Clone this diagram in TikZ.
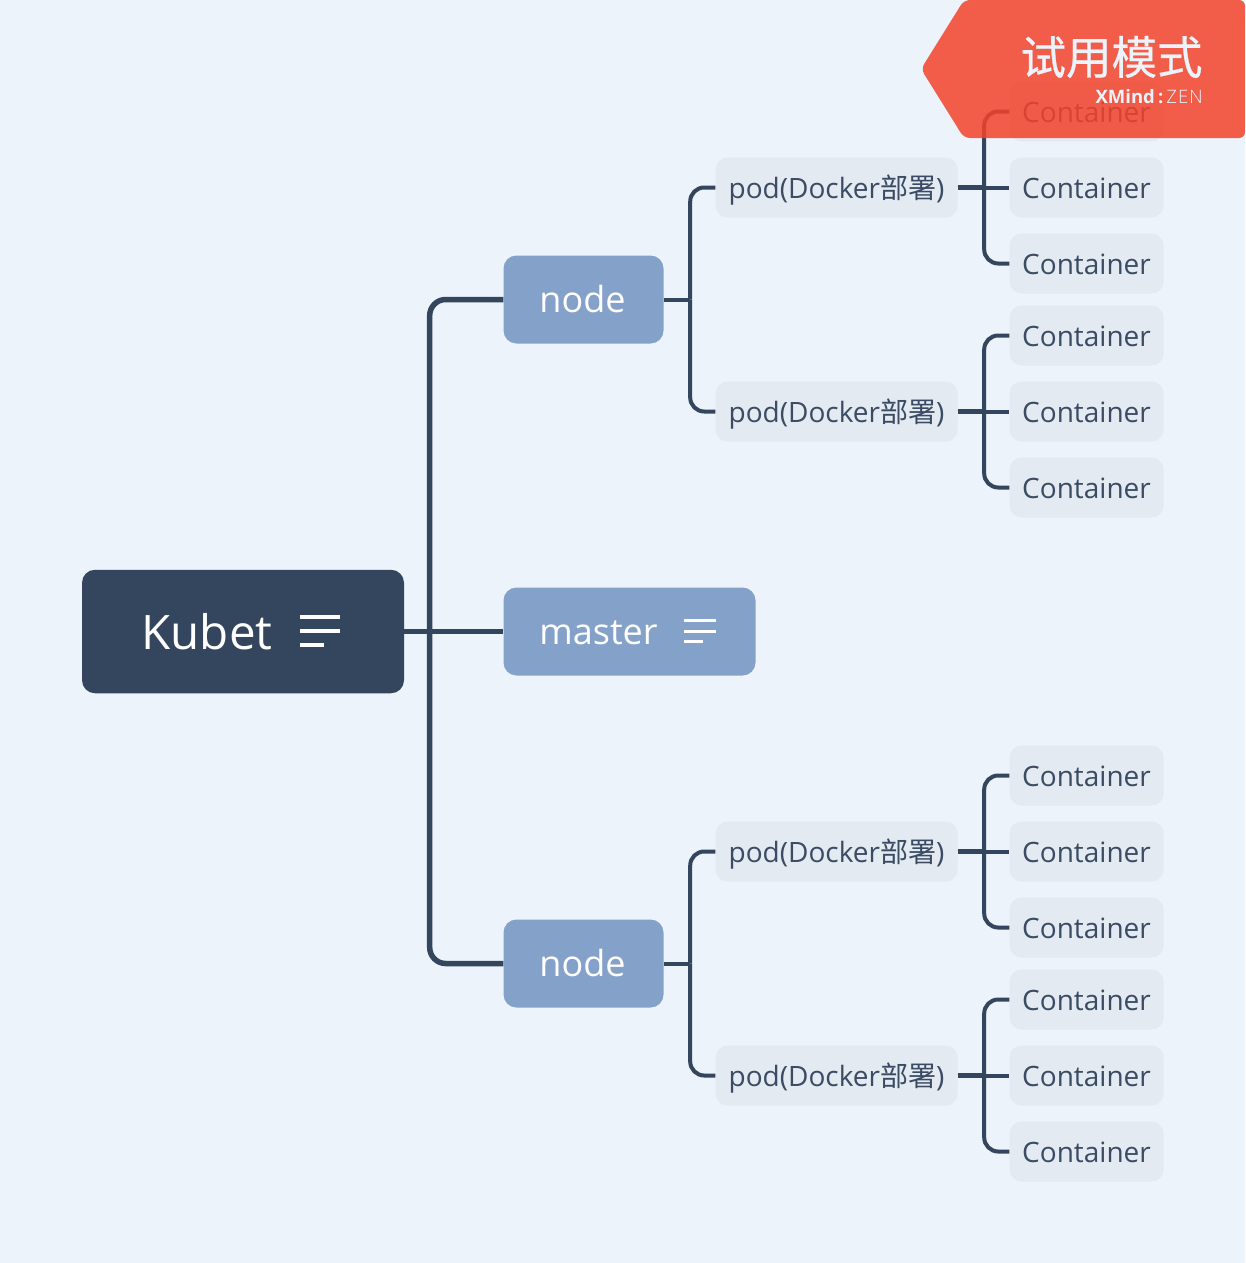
\documentclass[tikz,border=0pt]{standalone}
\usepackage{fontspec}
\setmainfont{Open Sans}
\newfontfamily\cjk{Noto Sans CJK SC}
\newfontfamily\cjkheavy[FakeBold=0.6]{Noto Sans CJK SC}
\newfontfamily\brandlight[LetterSpace=6]{Open Sans Light}
\definecolor{bgblue}{HTML}{ECF3FA}
\definecolor{rootblue}{HTML}{34465E}
\definecolor{nodeblue}{HTML}{84A1C9}
\definecolor{podgrey}{HTML}{E3EAF2}
\definecolor{podtext}{HTML}{3A4B63}
\definecolor{trialred}{HTML}{F3432B}

\tikzstyle{rootbox} = [fill=rootblue, text=white, rectangle, rounded corners=13pt,
    minimum width=322pt, minimum height=123.5pt, inner sep=0pt, font=\fontsize{47.5}{47.5}\selectfont]
\tikzstyle{nodebox} = [fill=nodeblue, text=white, rectangle, rounded corners=13pt,
    minimum height=88pt, inner sep=0pt, text height=32pt, text depth=7pt, font=\fontsize{36}{36}\selectfont]
\tikzstyle{leafbox} = [fill=podgrey, text=podtext, rectangle, rounded corners=12pt,
    minimum height=60pt, inner sep=0pt, text height=28pt, text depth=6pt, font=\fontsize{28}{28}\selectfont]
\tikzstyle{link} = [draw=rootblue, line width=4pt, rounded corners=14pt]
\tikzstyle{mainlink} = [draw=rootblue, line width=5.5pt, rounded corners=16pt]
\tikzstyle{podlink} = [draw=rootblue, line width=5pt]
\tikzstyle{noteline} = [draw=white, line width=3pt]

\begin{document}
\begin{tikzpicture}[x=1pt, y=-1pt]
    \useasboundingbox (0,0) rectangle (1245,1263);
    \fill[bgblue] (0,0) rectangle (1245,1263);
%------------ Root and first level ---------------------
    \node [rootbox] (root) at (243,631.5) {Kubet\kern72pt};
    \node [nodebox, minimum width=160pt] (nodeA) at (583.5,299.5) {\kern-2pt node};
    \node [nodebox, minimum width=252pt] (master) at (629.5,631.5) {master\kern62pt};
    \node [nodebox, minimum width=160pt] (nodeB) at (583.5,963.5) {\kern-2pt node};
%------------ Pods ---------------------
    \foreach \name/\ypos in {podA/187.5, podB/411.5, podC/851.5, podD/1075.5} {
        \node [leafbox, minimum width=242pt] (\name) at (836.5,\ypos) {pod(Docker{\cjk 部署})};
    }
%------------ Containers ---------------------
    \foreach \name/\ypos in {conA/111.5, conB/187.5, conC/263.5, conD/335.5, conE/411.5, conF/487.5,
        conG/775.5, conH/851.5, conI/927.5, conJ/999.5, conK/1075.5, conL/1151.5} {
        \node [leafbox, minimum width=154pt] (\name) at (1086.5,\ypos) {Container};
    }
%------------ Connectors ---------------------
    \draw [mainlink] (root.east) -- (master.west);
    \draw [mainlink] (root.east) ++(25.5,0) |- (nodeA.west);
    \draw [mainlink] (root.east) ++(25.5,0) |- (nodeB.west);
    \foreach \parent/\childa/\childb in {nodeA/podA/podB, nodeB/podC/podD} {
        \draw [link] (\parent.east) -- ++(26.5,0);
        \draw [link] (\parent.east) ++(26.5,0) |- (\childa.west);
        \draw [link] (\parent.east) ++(26.5,0) |- (\childb.west);
    }
    \foreach \parent/\childa/\childb/\childc in {podA/conA/conB/conC, podB/conD/conE/conF,
        podC/conG/conH/conI, podD/conJ/conK/conL} {
        \draw [podlink] (\parent.east) -- ++(26.5,0);
        \draw [link] (\parent.east) ++(26.5,0) |- (\childa.west);
        \draw [link] (\parent.east) -- (\childb.west);
        \draw [link] (\parent.east) ++(26.5,0) |- (\childc.west);
    }
%------------ Note icons ---------------------
    \draw [noteline, line width=3.5pt] (300,617) -- (340,617) (300,631) -- (340,631) (300,645) -- (324,645);
    \draw [noteline] (684,620) -- (716,620) (684,631) -- (716,631) (684,641) -- (703,641);
%------------ Trial badge ---------------------
    \fill [trialred, fill opacity=0.85, rounded corners=6pt] (964,0) -- (1245,0) -- (1245,138)
        -- (964,138) -- (921,69) -- cycle;
    \node [text=bgblue, inner sep=0pt, font=\cjkheavy\fontsize{45.5}{45.5}\selectfont] (trial) at (1111.5,57) {试用模式};
    \node [text=bgblue, inner sep=0pt, font=\fontsize{18.5}{18.5}\selectfont, anchor=east] (brand) at (1203,96.5)
        {\textbf{XMind}\,\textbf{:}\,{\brandlight ZEN}};
\end{tikzpicture}
\end{document}
